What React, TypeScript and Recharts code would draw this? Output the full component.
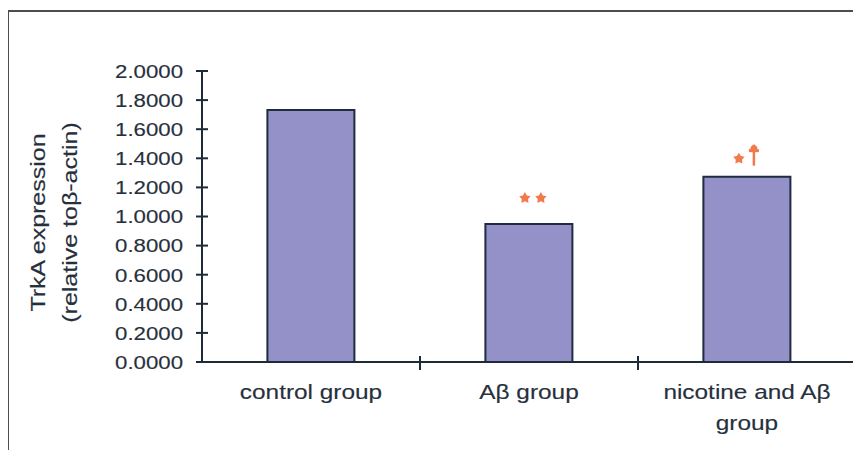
import { BarChart, Bar, XAxis, YAxis, LabelList } from "recharts";

const groups = ["control group", "Aβ group", "nicotine and Aβ group"];
const groupLines = [["control group"], ["Aβ group"], ["nicotine and Aβ", "group"]];
const trkA = [1.732, 0.948, 1.274];
const marks = ["", "**", "*†"];
const yTicks = [0, 0.2, 0.4, 0.6, 0.8, 1.0, 1.2, 1.4, 1.6, 1.8, 2.0];

const data = groups.map((g, i) => ({ group: g, trkA: trkA[i], mark: marks[i] }));

const INK = "#26303c";
const AXIS = "#1e2a38";
const MARK = "#f07a4a";
const FONT = "'Liberation Sans', Arial, sans-serif";

const YTick = (props: any) => {
  const { x, y, payload } = props;
  return (
    <g>
      <line x1={x - 6} x2={x + 6} y1={y} y2={y} stroke={AXIS} strokeWidth={2} />
      <g transform={`translate(${x - 19},${y}) scale(1.17,1)`}>
        <text x={0} y={0} dy="0.36em" textAnchor="end" fill={INK} stroke={INK} strokeWidth={0.15} fontSize={19} fontFamily={FONT}>
          {payload.value.toFixed(4)}
        </text>
      </g>
    </g>
  );
};

const XTick = (props: any) => {
  const { x, y, payload, index } = props;
  const lines = groupLines[index] || [payload.value];
  const edge = x + (payload.offset || 0);
  return (
    <g>
      {index < groups.length - 1 && (
        <line x1={edge} x2={edge} y1={y - 6} y2={y + 8} stroke={AXIS} strokeWidth={2} />
      )}
      {lines.map((ln: string, k: number) => (
        <g key={k} transform={`translate(${x},${y + 30 + k * 31}) scale(1.22,1)`}>
          <text x={0} y={0} dy="0.36em" textAnchor="middle" fill={INK} stroke={INK} strokeWidth={0.15} fontSize={20} fontFamily={FONT}>
            {ln}
          </text>
        </g>
      ))}
    </g>
  );
};

const star = (cx: number, cy: number, r: number) => {
  const pts: string[] = [];
  for (let i = 0; i < 10; i++) {
    const a = -Math.PI / 2 + (i * Math.PI) / 5;
    const rr = i % 2 === 0 ? r : r * 0.55;
    pts.push(`${cx + rr * Math.cos(a)},${cy + rr * Math.sin(a)}`);
  }
  return pts.join(" ");
};

const MarkLabel = (props: any) => {
  const { x, y, width, value } = props;
  if (!value) return null;
  const cx = x + width / 2;
  if (value === "**") {
    return (
      <g fill={MARK}>
        <polygon points={star(cx - 4, y - 26, 6)} />
        <polygon points={star(cx + 12, y - 26, 6)} />
      </g>
    );
  }
  return (
    <g fill={MARK}>
      <polygon points={star(cx - 8, y - 18, 6)} />
      <line x1={cx + 7} x2={cx + 7} y1={y - 32} y2={y - 11} stroke={MARK} strokeWidth={2.5} />
      <line x1={cx + 2} x2={cx + 12} y1={y - 26} y2={y - 26} stroke={MARK} strokeWidth={3} />
      <circle cx={cx + 7} cy={y - 28} r={3.5} />
    </g>
  );
};

const YLabel = (props: any) => {
  const { viewBox } = props;
  const cy = viewBox.y + viewBox.height / 2 + 6;
  return (
    <g fill={INK} stroke={INK} strokeWidth={0.15} fontSize={20} fontFamily={FONT}>
      <g transform={`translate(30,${cy}) rotate(-90) scale(1.25,1)`}>
        <text x={0} y={0} dy="0.36em" textAnchor="middle">TrkA expression</text>
      </g>
      <g transform={`translate(62,${cy}) rotate(-90) scale(1.25,1)`}>
        <text x={0} y={0} dy="0.36em" textAnchor="middle">(relative toβ-actin)</text>
      </g>
    </g>
  );
};

export default function App() {
  return (
    <div style={{ position: "relative", width: 853, height: 442, overflow: "hidden", background: "#fff" }}>
      <div
        style={{
          position: "absolute",
          left: -1,
          top: 2,
          width: 900,
          height: 600,
          border: "2px solid #4d4d4d",
          boxSizing: "border-box",
        }}
      />
      <BarChart
        width={853}
        height={442}
        data={data}
        margin={{ top: 63, right: 5, left: 0, bottom: 0 }}
        barCategoryGap="30%"
        style={{ position: "relative" }}
      >
        <XAxis
          dataKey="group"
          height={88}
          axisLine={{ stroke: AXIS, strokeWidth: 2 }}
          tickLine={false}
          tickSize={0}
          tickMargin={0}
          interval={0}
          tick={<XTick />}
        />
        <YAxis
          domain={[0, 2]}
          ticks={yTicks}
          width={194}
          axisLine={{ stroke: AXIS, strokeWidth: 2 }}
          tickLine={false}
          tickSize={0}
          tickMargin={0}
          interval={0}
          tick={<YTick />}
          label={{ content: <YLabel /> }}
        />
        <Bar dataKey="trkA" fill="#9391c8" stroke="#1f2b40" strokeWidth={2} isAnimationActive={false}>
          <LabelList dataKey="mark" content={<MarkLabel />} />
        </Bar>
      </BarChart>
    </div>
  );
}
